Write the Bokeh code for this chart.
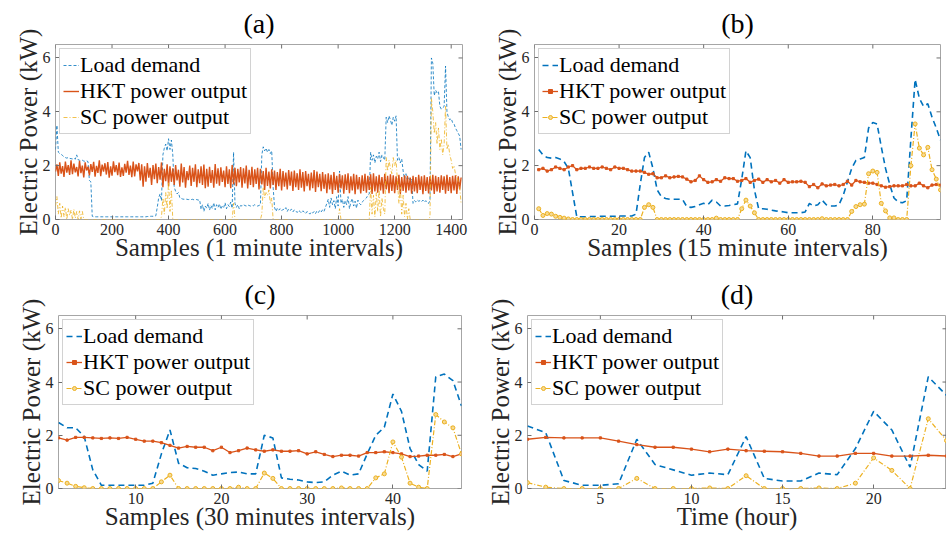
import numpy as np
from bokeh.plotting import figure
from bokeh.layouts import column, row
from bokeh.models import Range1d, FixedTicker, Legend, LegendItem
from bokeh.embed import file_html
from bokeh.resources import INLINE

BLUE = "#0072BD"
ORANGE = "#D95319"
YELLOW = "#EDB120"
FONT = "Liberation Serif"

# ---------------- (a) 1-minute samples (every 5th sample shown) ----------------
x_a = np.arange(0, 1440, 5)

load_a = [
    2.60, 3.50, 2.50, 2.45, 2.42, 2.38, 2.32, 2.30, 2.28, 2.30, 2.27, 2.26,
    2.25, 2.28, 2.24, 2.40, 2.22, 2.20, 2.18, 2.20, 2.17, 2.16, 2.18, 2.15,
    1.45, 1.40, 0.12, 0.10, 0.10, 0.10, 0.10, 0.10, 0.10, 0.10, 0.10, 0.10,
    0.10, 0.10, 0.10, 0.10, 0.10, 0.10, 0.10, 0.10, 0.10, 0.10, 0.10, 0.10,
    0.10, 0.10, 0.10, 0.10, 0.10, 0.10, 0.10, 0.10, 0.10, 0.10, 0.10, 0.10,
    0.10, 0.10, 0.10, 0.10, 0.10, 0.11, 0.11, 0.12, 0.12, 0.12, 0.12, 0.14,
    0.45, 0.80, 0.95, 0.70, 2.40, 2.65, 2.80, 2.55, 3.00, 2.60, 2.95, 2.40,
    1.20, 1.05, 0.95, 1.00, 0.80, 0.78, 0.76, 0.75, 0.76, 0.75, 0.74, 0.75,
    0.74, 0.75, 0.73, 0.74, 0.74, 0.72, 0.73, 0.38, 0.55, 0.30, 0.50, 0.42,
    0.60, 0.35, 0.52, 0.40, 0.62, 0.36, 0.55, 0.45, 0.58, 0.38, 0.50, 0.44,
    0.62, 0.40, 0.55, 0.48, 0.65, 0.42, 2.50, 0.60, 0.45, 0.55, 0.40, 0.52,
    0.50, 0.55, 0.52, 0.50, 0.54, 0.52, 0.50, 0.53, 0.51, 0.55, 0.52, 0.50,
    0.52, 0.55, 2.40, 2.70, 2.55, 2.65, 2.50, 2.60, 2.45, 2.55, 1.20, 0.45,
    0.30, 0.42, 0.35, 0.40, 0.32, 0.38, 0.36, 0.44, 0.30, 0.40, 0.34, 0.38,
    0.28, 0.36, 0.32, 0.26, 0.34, 0.30, 0.24, 0.32, 0.28, 0.22, 0.30, 0.26,
    0.20, 0.28, 0.24, 0.30, 0.22, 0.32, 0.26, 0.34, 0.28, 0.36, 0.30, 0.45,
    0.60, 0.75, 0.45, 0.80, 0.55, 0.70, 0.40, 0.85, 0.50, 1.80, 0.60, 0.75,
    0.45, 0.70, 0.55, 0.85, 0.40, 0.65, 0.78, 0.50, 0.68, 0.42, 0.72, 0.60,
    0.55, 0.65, 0.70, 0.75, 0.80, 0.90, 0.95, 2.50, 2.20, 2.40, 2.10, 2.35,
    2.25, 2.50, 2.15, 2.40, 2.30, 2.20, 3.80, 3.60, 3.85, 3.70, 3.50, 3.80,
    3.65, 3.85, 2.20, 2.30, 2.10, 2.25, 1.80, 1.50, 1.70, 1.45, 1.55, 1.40,
    1.50, 0.60, 0.70, 0.65, 0.72, 0.68, 0.70, 0.66, 0.72, 0.64, 0.70, 0.62,
    0.60, 0.70, 6.00, 5.80, 4.60, 4.80, 4.70, 4.75, 4.20, 4.10, 4.15, 4.20,
    5.70, 4.00, 3.80, 3.70, 3.75, 3.60, 3.55, 3.40, 3.30, 3.20, 3.10, 2.60,
]

hkt_a = [
    1.78, 2.05, 1.62, 2.12, 1.70, 1.98, 1.58, 2.15, 1.74, 2.02, 1.66, 2.20,
    1.68, 2.08, 1.75, 1.95, 1.60, 2.18, 1.72, 2.00, 1.56, 2.12, 1.82, 1.96,
    1.64, 2.06, 1.77, 2.14, 1.59, 1.99, 1.73, 2.20, 1.61, 2.04, 1.78, 2.09,
    1.67, 2.13, 1.55, 1.97, 1.63, 2.16, 1.76, 2.02, 1.65, 2.11, 1.58, 1.94,
    1.62, 2.07, 1.74, 2.18, 1.66, 2.00, 1.57, 2.15, 1.60, 2.05, 1.79, 2.10,
    1.45, 2.05, 1.22, 1.98, 1.40, 2.10, 1.55, 1.92, 1.28, 2.02, 1.50, 2.08,
    1.35, 1.95, 1.48, 2.12, 1.20, 1.88, 1.42, 2.05, 1.25, 1.98, 1.40, 1.90,
    1.28, 2.02, 1.45, 1.85, 1.22, 2.08, 1.38, 1.95, 1.18, 1.80, 1.46, 2.00,
    1.25, 1.92, 1.40, 2.05, 1.20, 1.86, 1.35, 1.98, 1.28, 2.04, 1.16, 1.88,
    1.22, 1.96, 1.36, 1.84, 1.18, 2.06, 1.33, 1.90, 1.26, 1.94, 1.40, 1.82,
    1.20, 1.98, 1.32, 1.86, 1.16, 2.02, 1.30, 1.92, 1.24, 1.88, 1.38, 1.95,
    1.18, 1.90, 1.34, 2.00, 1.15, 1.85, 1.28, 1.96, 1.20, 1.86, 1.32, 1.92,
    1.12, 1.88, 1.30, 1.80, 1.10, 1.92, 1.25, 1.78, 1.15, 1.86, 1.28, 1.82,
    1.10, 1.76, 1.24, 1.88, 1.08, 1.80, 1.22, 1.74, 1.12, 1.84, 1.26, 1.78,
    1.06, 1.82, 1.20, 1.72, 1.10, 1.86, 1.18, 1.76, 1.04, 1.80, 1.24, 1.70,
    1.08, 1.74, 1.16, 1.84, 1.02, 1.78, 1.20, 1.70, 1.05, 1.76, 1.14, 1.68,
    0.98, 1.72, 1.12, 1.66, 0.95, 1.76, 1.10, 1.62, 1.00, 1.70, 1.15, 1.64,
    0.96, 1.68, 1.10, 1.72, 0.98, 1.60, 1.08, 1.70, 0.94, 1.66, 1.12, 1.58,
    0.97, 1.64, 1.06, 1.70, 1.00, 1.62, 1.10, 1.68, 0.95, 1.72, 1.04, 1.60,
    1.00, 1.66, 1.08, 1.58, 0.96, 1.70, 1.12, 1.62, 0.98, 1.68, 1.06, 1.64,
    0.98, 1.60, 1.10, 1.66, 0.95, 1.58, 1.06, 1.64, 1.00, 1.62, 1.08, 1.56,
    0.96, 1.62, 1.04, 1.58, 0.98, 1.66, 1.10, 1.60, 0.94, 1.64, 1.06, 1.58,
    0.97, 1.60, 1.08, 1.66, 0.95, 1.62, 1.04, 1.58, 1.00, 1.64, 1.10, 1.60,
    0.96, 1.66, 1.06, 1.58, 0.98, 1.62, 1.08, 1.64, 0.95, 1.60, 1.12, 1.56,
]

sc_a = [
    0.50, 0.85, 0.20, 0.60, 0.05, 0.50, 0.10, 0.45, 0.00, 0.40, 0.15, 0.35,
    0.00, 0.38, 0.05, 0.30, 0.00, 0.32, 0.02, 0.30, 0.00, 0.00, 0.00, 0.00,
    0.00, 0.00, 0.00, 0.00, 0.00, 0.00, 0.00, 0.00, 0.00, 0.00, 0.00, 0.00,
    0.00, 0.00, 0.00, 0.00, 0.00, 0.00, 0.00, 0.00, 0.00, 0.00, 0.00, 0.00,
    0.00, 0.00, 0.00, 0.00, 0.00, 0.00, 0.00, 0.00, 0.00, 0.00, 0.00, 0.00,
    0.00, 0.00, 0.00, 0.00, 0.00, 0.00, 0.00, 0.00, 0.00, 0.00, 0.00, 0.00,
    0.00, 0.00, 0.00, 0.10, 0.80, 0.20, 1.00, 0.40, 1.40, 0.30, 1.10, 0.00,
    0.00, 0.00, 0.00, 0.00, 0.00, 0.00, 0.00, 0.00, 0.00, 0.00, 0.00, 0.00,
    0.00, 0.00, 0.00, 0.00, 0.00, 0.00, 0.00, 0.00, 0.00, 0.00, 0.00, 0.00,
    0.00, 0.00, 0.00, 0.00, 0.00, 0.00, 0.00, 0.00, 0.00, 0.00, 0.00, 0.00,
    0.00, 0.00, 0.00, 0.00, 0.00, 0.00, 0.60, 0.00, 0.00, 0.00, 0.00, 0.00,
    0.00, 0.00, 0.00, 0.00, 0.00, 0.00, 0.00, 0.00, 0.00, 0.00, 0.00, 0.00,
    0.00, 0.00, 0.20, 1.20, 0.80, 1.00, 0.90, 1.10, 0.60, 0.80, 0.00, 0.00,
    0.00, 0.00, 0.00, 0.00, 0.00, 0.00, 0.00, 0.00, 0.00, 0.00, 0.00, 0.00,
    0.00, 0.00, 0.00, 0.00, 0.00, 0.00, 0.00, 0.00, 0.00, 0.00, 0.00, 0.00,
    0.00, 0.00, 0.00, 0.00, 0.00, 0.00, 0.00, 0.00, 0.00, 0.00, 0.00, 0.00,
    0.00, 0.00, 0.00, 0.00, 0.00, 0.00, 0.00, 0.00, 0.00, 0.40, 0.00, 0.00,
    0.00, 0.00, 0.00, 0.00, 0.00, 0.00, 0.00, 0.00, 0.00, 0.00, 0.00, 0.00,
    0.00, 0.00, 0.00, 0.00, 0.00, 0.00, 0.00, 1.20, 0.20, 0.90, 0.10, 1.00,
    0.30, 1.10, 0.10, 0.80, 0.40, 0.20, 2.30, 1.80, 2.20, 1.90, 1.70, 2.30,
    2.00, 2.20, 1.40, 0.60, 1.20, 0.20, 0.90, 0.10, 0.60, 0.00, 0.40, 0.00,
    0.00, 0.00, 0.00, 0.00, 0.00, 0.00, 0.00, 0.00, 0.00, 0.00, 0.00, 0.00,
    0.00, 0.10, 4.50, 4.00, 3.20, 3.60, 2.80, 3.40, 2.60, 3.00, 2.40, 2.80,
    4.20, 2.60, 2.80, 2.40, 2.20, 1.90, 2.00, 1.70, 1.60, 1.40, 1.20, 0.60,
]

# ---------------- (b) 15-minute samples ----------------
x_b = np.arange(1, 97)
load_b = [
    2.60, 2.40, 2.30, 2.28, 2.30, 2.25, 2.15, 1.90, 1.00, 0.10, 0.10, 0.10,
    0.11, 0.11, 0.11, 0.12, 0.12, 0.12, 0.12, 0.13, 0.13, 0.13, 0.13, 0.20,
    1.30, 2.30, 2.50, 1.90, 1.10, 0.85, 0.78, 0.75, 0.75, 0.75, 0.75, 0.48,
    0.45, 0.48, 0.55, 0.60, 0.55, 0.72, 0.65, 0.50, 0.50, 0.52, 0.55, 0.58,
    1.50, 2.55, 2.30, 1.10, 0.40, 0.40, 0.38, 0.35, 0.32, 0.30, 0.28, 0.25,
    0.25, 0.25, 0.25, 0.28, 0.60, 0.50, 0.55, 0.72, 0.55, 0.50, 0.50, 0.55,
    0.90, 1.40, 1.90, 2.20, 2.25, 2.30, 3.40, 3.60, 3.55, 2.70, 1.90, 1.30,
    0.80, 0.65, 0.62, 0.70, 3.00, 5.20, 4.50, 4.20, 4.30, 3.80, 3.40, 2.95,
]
hkt_b = [
    1.85, 1.90, 1.80, 1.85, 1.95, 1.90, 1.85, 1.95, 2.00, 1.85, 1.90, 1.90,
    1.95, 1.90, 1.90, 1.95, 1.90, 1.85, 1.95, 1.90, 1.90, 1.85, 1.80, 1.80,
    1.80, 1.75, 1.68, 1.70, 1.55, 1.55, 1.62, 1.55, 1.58, 1.60, 1.58, 1.50,
    1.40, 1.45, 1.62, 1.48, 1.38, 1.40, 1.48, 1.42, 1.55, 1.52, 1.52, 1.42,
    1.45, 1.52, 1.38, 1.45, 1.50, 1.38, 1.48, 1.40, 1.45, 1.35, 1.48, 1.38,
    1.40, 1.40, 1.42, 1.38, 1.22, 1.30, 1.18, 1.32, 1.25, 1.28, 1.30, 1.25,
    1.30, 1.42, 1.28, 1.45, 1.40, 1.38, 1.35, 1.35, 1.30, 1.25, 1.20, 1.22,
    1.25, 1.25, 1.25, 1.30, 1.25, 1.25, 1.35, 1.25, 1.18, 1.28, 1.30, 1.28,
]
sc_b = [
    0.40, 0.15, 0.22, 0.20, 0.12, 0.08, 0.05, 0.02, 0.00, 0.00, 0.00, 0.00,
    0.00, 0.00, 0.00, 0.00, 0.00, 0.00, 0.00, 0.00, 0.00, 0.00, 0.00, 0.00,
    0.00, 0.45, 0.55, 0.45, 0.00, 0.00, 0.00, 0.00, 0.00, 0.00, 0.00, 0.00,
    0.00, 0.00, 0.00, 0.00, 0.00, 0.00, 0.05, 0.00, 0.00, 0.00, 0.00, 0.00,
    0.40, 0.72, 0.50, 0.25, 0.00, 0.00, 0.00, 0.00, 0.00, 0.00, 0.00, 0.00,
    0.00, 0.00, 0.00, 0.00, 0.00, 0.00, 0.00, 0.03, 0.00, 0.00, 0.00, 0.00,
    0.00, 0.00, 0.30, 0.48, 0.55, 0.57, 1.70, 1.80, 1.75, 0.60, 0.32, 0.06,
    0.06, 0.00, 0.00, 0.00, 2.00, 3.55, 2.65, 2.40, 2.68, 1.85, 1.50, 1.10,
]

# ---------------- (c) 30-minute samples ----------------
x_c = np.arange(1, 49)
load_c = [
    2.48, 2.28, 2.28, 1.95, 0.70, 0.12, 0.12, 0.12, 0.12, 0.12, 0.12, 0.20,
    1.30, 2.20, 0.95, 0.78, 0.75, 0.65, 0.50, 0.55, 0.60, 0.62, 0.55, 0.55,
    2.00, 1.90, 0.40, 0.35, 0.32, 0.25, 0.22, 0.25, 0.50, 0.65, 0.50, 0.55,
    1.30, 2.00, 2.30, 3.55, 2.90, 1.50, 0.90, 0.65, 4.20, 4.30, 4.05, 3.10,
]
hkt_c = [
    1.90, 1.82, 1.92, 1.92, 1.90, 1.88, 1.90, 1.88, 1.92, 1.85, 1.78, 1.78,
    1.72, 1.62, 1.52, 1.58, 1.55, 1.55, 1.42, 1.55, 1.35, 1.42, 1.52, 1.45,
    1.40, 1.45, 1.40, 1.40, 1.42, 1.30, 1.38, 1.28, 1.20, 1.25, 1.25, 1.22,
    1.35, 1.35, 1.38, 1.35, 1.30, 1.20, 1.22, 1.25, 1.25, 1.28, 1.20, 1.30,
]
sc_c = [
    0.30, 0.20, 0.08, 0.03, 0.00, 0.00, 0.00, 0.00, 0.00, 0.00, 0.00, 0.00,
    0.25, 0.50, 0.00, 0.00, 0.00, 0.00, 0.00, 0.00, 0.00, 0.05, 0.00, 0.00,
    0.58, 0.38, 0.00, 0.00, 0.00, 0.00, 0.00, 0.00, 0.00, 0.02, 0.00, 0.00,
    0.00, 0.40, 0.55, 1.75, 1.18, 0.20, 0.05, 0.00, 2.78, 2.50, 2.28, 1.30,
]

# ---------------- (d) hourly ----------------
x_d = np.arange(1, 25)
load_d = [2.35, 2.10, 0.30, 0.12, 0.12, 0.18, 1.85, 0.90, 0.70, 0.50, 0.58, 0.52,
          1.95, 0.38, 0.28, 0.28, 0.58, 0.52, 1.50, 2.90, 2.20, 0.80, 4.20, 3.50]
hkt_d = [1.85, 1.92, 1.90, 1.90, 1.90, 1.78, 1.65, 1.55, 1.55, 1.48, 1.38, 1.48,
         1.42, 1.40, 1.38, 1.32, 1.22, 1.22, 1.32, 1.32, 1.22, 1.22, 1.25, 1.22]
sc_d = [0.22, 0.05, 0.00, 0.00, 0.00, 0.00, 0.38, 0.00, 0.00, 0.00, 0.02, 0.00,
        0.48, 0.00, 0.00, 0.00, 0.02, 0.00, 0.20, 1.15, 0.68, 0.00, 2.62, 1.80]

y_ticks = [0, 2, 4, 6]
y_top = 6.5
labels = ["Load demand", "HKT power output", "SC power output"]
TICK_COLOR = "#6e6e6e"


def style_axis(ax, ticks):
    ax.ticker = FixedTicker(ticks=ticks)
    ax.axis_line_color = None
    ax.major_tick_in = 4
    ax.major_tick_out = 0
    ax.major_tick_line_color = TICK_COLOR
    ax.minor_tick_line_color = None
    ax.major_label_text_font = FONT
    ax.major_label_text_color = "#262626"
    ax.major_label_text_font_size = "16px"
    ax.axis_label_text_font = FONT
    ax.axis_label_text_font_size = "25px"
    ax.axis_label_text_font_style = "normal"
    ax.axis_label_text_color = "#262626"


def panel(title, xlabel, x, load, hkt, sc, xr, xticks, w, h, borders, dense=False):
    left, right, top, bottom = borders
    p = figure(width=w, height=h, output_backend="svg", toolbar_location=None,
               x_range=Range1d(*xr), y_range=Range1d(0, y_top),
               min_border_left=left, min_border_right=right,
               min_border_top=top, min_border_bottom=bottom,
               background_fill_color="white", border_fill_color="white")
    p.grid.visible = False
    p.outline_line_color = "#a6a6a6"
    p.outline_line_width = 1

    p.title.text = title
    p.title.align = "center"
    p.title.text_font = FONT
    p.title.text_font_size = "28px"
    p.title.text_font_style = "normal"
    p.title.text_color = "black"
    p.title.standoff = 11

    p.xaxis.axis_label = xlabel
    p.yaxis.axis_label = "Electric Power (kW)"
    style_axis(p.xaxis[0], xticks)
    style_axis(p.yaxis[0], y_ticks)
    p.xaxis[0].major_label_standoff = 4
    p.yaxis[0].major_label_standoff = 5
    p.xaxis[0].axis_label_standoff = -4
    p.yaxis[0].axis_label_standoff = -2

    # inward tick marks on the top and right edges of the box
    p.scatter(xticks, [y_top] * len(xticks), marker="dash", angle=np.pi / 2,
              size=8, line_color=TICK_COLOR, line_width=1)
    p.scatter([xr[1]] * len(y_ticks), y_ticks, marker="dash",
              size=8, line_color=TICK_COLOR, line_width=1)

    if dense:
        r_load = p.line(x, load, line_color=BLUE, line_width=0.8, line_dash="3 2")
        r_hkt = p.line(x, hkt, line_color=ORANGE, line_width=1.4)
        r_sc = p.line(x, sc, line_color=YELLOW, line_width=0.8, line_dash="4 2 1 2")
        items = [LegendItem(label=labels[0], renderers=[r_load]),
                 LegendItem(label=labels[1], renderers=[r_hkt]),
                 LegendItem(label=labels[2], renderers=[r_sc])]
    else:
        r_load = p.line(x, load, line_color=BLUE, line_width=1.6, line_dash="6 4")
        r_hkt = p.line(x, hkt, line_color=ORANGE, line_width=1.3)
        m_hkt = p.scatter(x, hkt, marker="square", size=2.2, line_color=ORANGE,
                          fill_color=ORANGE)
        r_sc = p.line(x, sc, line_color=YELLOW, line_width=1.2, line_dash="5 2 1 2")
        m_sc = p.scatter(x, sc, marker="circle", size=4, line_color=YELLOW,
                         fill_color="#F6DA94", line_width=1)
        items = [LegendItem(label=labels[0], renderers=[r_load]),
                 LegendItem(label=labels[1], renderers=[r_hkt, m_hkt]),
                 LegendItem(label=labels[2], renderers=[r_sc, m_sc])]

    legend = Legend(items=items, location="top_left", margin=4, padding=3, spacing=0,
                    glyph_width=16, glyph_height=10, label_height=24, label_standoff=1,
                    label_text_font=FONT, label_text_font_size="22px",
                    label_text_color="black",
                    border_line_color="#a6a6a6", border_line_width=1,
                    background_fill_color="white", background_fill_alpha=1)
    p.add_layout(legend)
    return p


pa = panel("(a)", "Samples (1 minute intervals)", x_a, load_a, hkt_a, sc_a,
           (0, 1440), [0, 200, 400, 600, 800, 1000, 1200, 1400], 473, 271,
           (55, 11, 43, 52), dense=True)
pb = panel("(b)", "Samples (15 minute intervals)", x_b, load_b, hkt_b, sc_b,
           (0, 96), [0, 20, 40, 60, 80], 473, 271, (61, 6, 43, 50))
pc = panel("(c)", "Samples (30 minutes intervals)", x_c, load_c, hkt_c, sc_c,
           (1, 48), [10, 20, 30, 40], 473, 272, (58, 12, 42, 55))
pd = panel("(d)", "Time (hour)", x_d, load_d, hkt_d, sc_d,
           (1, 24), [5, 10, 15, 20], 473, 272, (54, 0, 42, 54))

layout = column(row(pa, pb, spacing=0), row(pc, pd, spacing=0), spacing=0)
open("out.html", "w").write(file_html(layout, INLINE))
